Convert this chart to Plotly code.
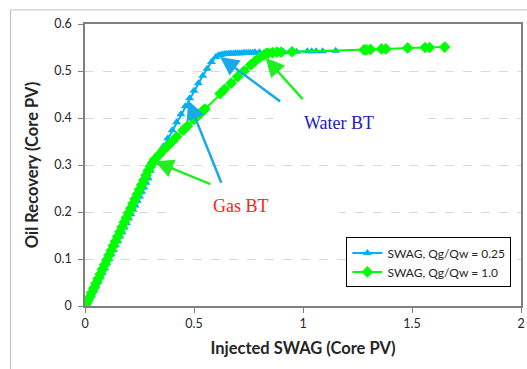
import plotly.graph_objects as go

# Injected SWAG (core PV) vs oil recovery (core PV)
blue_x = [0.00, 0.01, 0.02, 0.03, 0.04, 0.05, 0.06, 0.07, 0.08, 0.09, 0.10, 0.11, 0.12, 0.13,
          0.14, 0.15, 0.16, 0.17, 0.18, 0.19, 0.20, 0.21, 0.22, 0.23, 0.24, 0.25, 0.26, 0.27,
          0.28, 0.29, 0.30, 0.32, 0.34, 0.36, 0.38, 0.40, 0.42, 0.44, 0.46, 0.48, 0.50, 0.52,
          0.54, 0.56, 0.58, 0.60, 0.61, 0.62, 0.63, 0.64, 0.65, 0.66, 0.67, 0.68, 0.69, 0.70,
          0.71, 0.72, 0.73, 0.74, 0.75, 0.76, 0.77, 0.78, 0.80, 0.86, 0.89, 0.91, 0.94, 0.97,
          1.02, 1.04, 1.06, 1.09, 1.15]
blue_y = [0.000, 0.006, 0.015, 0.024, 0.034, 0.043, 0.053, 0.062, 0.072, 0.081, 0.091, 0.100,
          0.110, 0.119, 0.129, 0.138, 0.148, 0.157, 0.167, 0.176, 0.186, 0.195, 0.205, 0.214,
          0.224, 0.233, 0.243, 0.252, 0.262, 0.272, 0.288, 0.305, 0.322, 0.340, 0.357, 0.374,
          0.391, 0.408, 0.425, 0.442, 0.458, 0.474, 0.490, 0.505, 0.519, 0.530, 0.533, 0.534,
          0.535, 0.536, 0.536, 0.537, 0.537, 0.537, 0.538, 0.538, 0.538, 0.538, 0.539, 0.539,
          0.539, 0.539, 0.539, 0.540, 0.540, 0.540, 0.541, 0.541, 0.541, 0.541, 0.542, 0.542,
          0.542, 0.542, 0.543]

green_x = [0.00, 0.01, 0.02, 0.03, 0.04, 0.05, 0.06, 0.07, 0.08, 0.09, 0.10, 0.11, 0.12, 0.13,
           0.14, 0.15, 0.16, 0.17, 0.18, 0.19, 0.20, 0.21, 0.22, 0.23, 0.24, 0.25, 0.26, 0.27,
           0.28, 0.29, 0.30, 0.31, 0.32, 0.34, 0.36, 0.38, 0.40, 0.42, 0.45, 0.47, 0.50, 0.52,
           0.53, 0.54, 0.55, 0.62, 0.64, 0.67, 0.70, 0.73, 0.76, 0.78, 0.80, 0.82, 0.83, 0.84,
           0.86, 0.88, 0.90, 0.95, 1.28, 1.29, 1.31, 1.36, 1.38, 1.48, 1.56, 1.58, 1.65]
green_y = [0.000, 0.008, 0.018, 0.028, 0.038, 0.048, 0.058, 0.068, 0.078, 0.088, 0.098, 0.108,
           0.118, 0.128, 0.138, 0.148, 0.158, 0.168, 0.178, 0.188, 0.198, 0.208, 0.218, 0.228,
           0.238, 0.248, 0.258, 0.268, 0.278, 0.288, 0.297, 0.305, 0.312, 0.322, 0.332, 0.341,
           0.350, 0.360, 0.374, 0.383, 0.397, 0.406, 0.410, 0.415, 0.419, 0.452, 0.461, 0.474,
           0.488, 0.500, 0.513, 0.521, 0.528, 0.534, 0.537, 0.538, 0.539, 0.540, 0.540, 0.541,
           0.545, 0.545, 0.546, 0.547, 0.547, 0.549, 0.550, 0.550, 0.551]

BLUE = "#00b0f0"
GREEN = "#00ff00"
SANS = "Lato, 'Open Sans', sans-serif"
SERIF = "'Liberation Serif', 'Times New Roman', serif"

fig = go.Figure()
fig.add_trace(go.Scatter(
    x=blue_x, y=blue_y, mode="lines+markers", name="SWAG, Qg/Qw = 0.25",
    line=dict(color=BLUE, width=2),
    marker=dict(symbol="triangle-up", size=8, color=BLUE),
))
fig.add_trace(go.Scatter(
    x=green_x, y=green_y, mode="lines+markers", name="SWAG, Qg/Qw = 1.0",
    line=dict(color=GREEN, width=2),
    marker=dict(symbol="diamond", size=9, color=GREEN),
))

# white boxes behind the labels hide the gridlines there
fig.add_shape(type="rect", x0=0.905, x1=1.574, y0=0.37, y1=0.42, layer="between",
              fillcolor="white", line_width=0)
fig.add_shape(type="rect", x0=0.405, x1=1.166, y0=0.19, y1=0.235, layer="between",
              fillcolor="white", line_width=0)
# outer chart border
fig.add_shape(type="rect", xref="paper", yref="paper", x0=-0.171, x1=1.2, y0=-0.4, y1=1.05,
              line=dict(color="#bfbfbf", width=1), fillcolor="rgba(0,0,0,0)")

arrows = [
    (0.902, 0.433, 0.620, 0.530, "#1aa8e8"),
    (0.628, 0.259, 0.474, 0.437, "#1aa8e8"),
    (1.005, 0.437, 0.828, 0.528, "#22ee22"),
    (0.582, 0.258, 0.320, 0.308, "#22ee22"),
]
for x0, y0, x1, y1, c in arrows:
    fig.add_annotation(x=x1, y=y1, ax=x0, ay=y0, xref="x", yref="y", axref="x", ayref="y",
                       text="", showarrow=True, arrowhead=2, arrowsize=1.5, arrowwidth=2.5,
                       arrowcolor=c)

fig.add_annotation(x=1.163, y=0.390, text="Water BT", showarrow=False,
                   font=dict(family=SERIF, size=18, color="#2020c0"))
fig.add_annotation(x=0.717, y=0.213, text="Gas BT", showarrow=False,
                   font=dict(family=SERIF, size=18, color="#ff2020"))

fig.update_layout(
    width=527, height=369,
    margin=dict(l=85, r=6, t=24, b=63),
    paper_bgcolor="white", plot_bgcolor="white",
    font=dict(family=SANS, size=12.5, color="#262626"),
    showlegend=True,
    legend=dict(x=0.978, y=0.066, xanchor="right", yanchor="bottom",
                bgcolor="white", bordercolor="black", borderwidth=1,
                font=dict(family=SANS, size=12, color="#262626")),
)
fig.update_xaxes(
    range=[0, 2], dtick=0.5, showgrid=False, zeroline=False, automargin=False,
    showline=True, mirror=True, linecolor="#808080", linewidth=1.5,
    ticks="outside", ticklen=5, tickcolor="#808080",
    title=dict(text="<b>Injected SWAG (Core PV)</b>", font=dict(family=SANS, size=16.5, color="#262626"),
               standoff=13),
)
fig.update_yaxes(
    range=[0, 0.6], dtick=0.1, showgrid=True, gridcolor="#d9d9d9", griddash="dash",
    zeroline=False, showline=True, mirror=True, linecolor="#808080", linewidth=1.5,
    ticks="outside", ticklen=5, tickcolor="#808080", automargin=False, ticklabelstandoff=4,
    title=dict(text="<b>Oil Recovery (Core PV)</b>", font=dict(family=SANS, size=16.5, color="#262626"),
               standoff=12),
)

# the browser's default body margin would shift the fixed-size figure
fig.write_html("out.html", config={"displayModeBar": False},
               post_script="document.body.style.margin='0';")
